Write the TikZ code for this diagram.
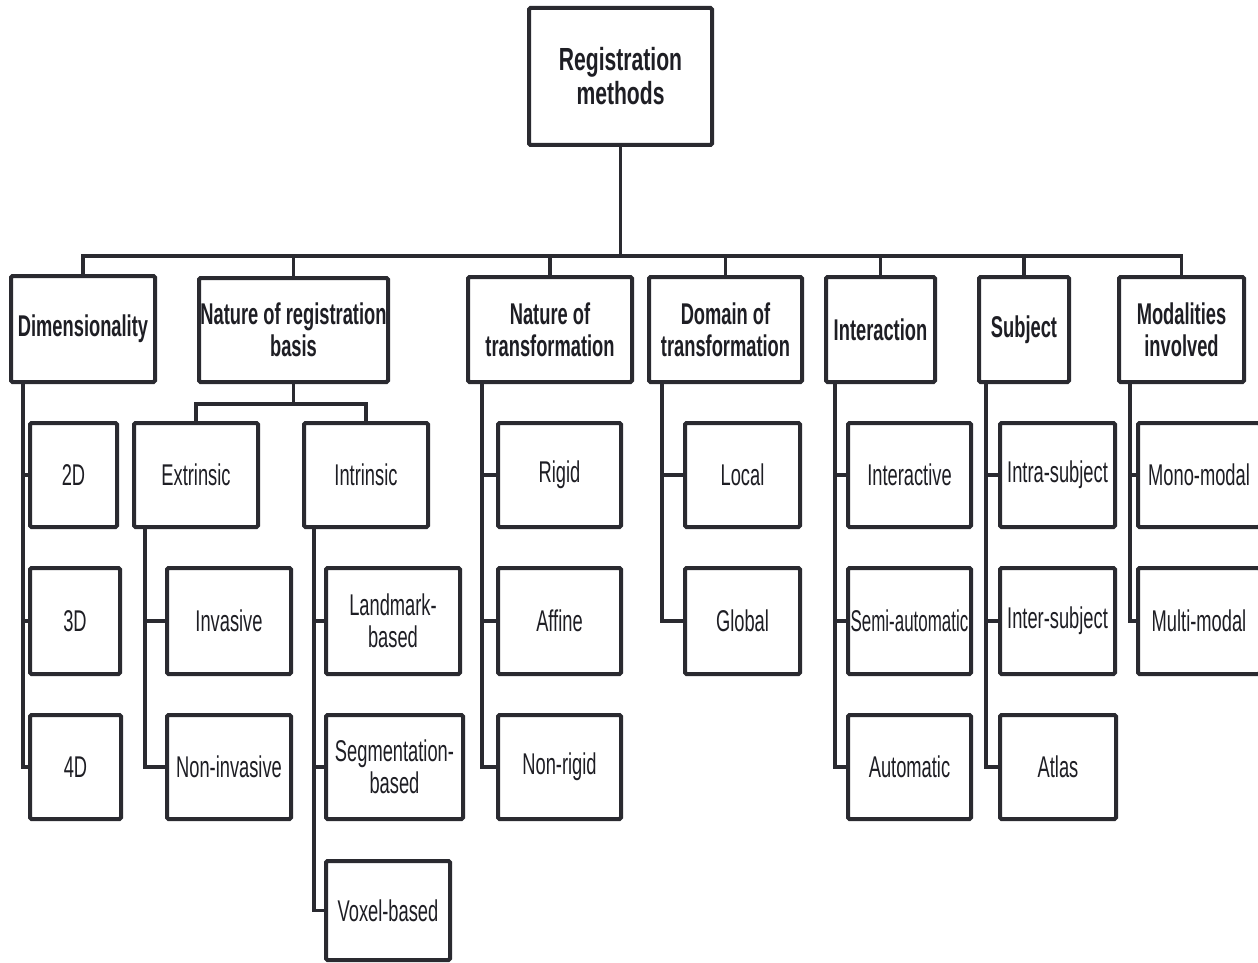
\documentclass[tikz,border=0pt]{standalone}
\usepackage{fontspec}
\setmainfont{Liberation Sans}[FakeStretch=0.61]
\newfontfamily\rootfont{Liberation Sans}[FakeStretch=0.66]
\newfontfamily\narrowfont{Liberation Sans}[FakeStretch=0.565]
\definecolor{ln}{HTML}{2A2A30}
\definecolor{tx}{HTML}{1E1E24}
\begin{document}
\begin{tikzpicture}[x=1pt,y=-1pt,
  box/.style={draw=ln, line width=4pt, rounded corners=1.5pt, fill=white, inner sep=0pt,
    align=center, text=tx, font=\fontsize{30}{32}\selectfont},
  head/.style={box, font=\fontsize{30}{32}\selectfont\bfseries},
  conn/.style={draw=ln, line width=3.5pt, line cap=rect},
  r1/.style={minimum height=104pt},
  r2/.style={minimum height=106pt},
  r3/.style={minimum height=104pt},
  r4/.style={minimum height=99pt},
]
\useasboundingbox (0,0) rectangle (1258,963);
\clip (0,0) rectangle (1258,963);
\fill[white] (0,0) rectangle (1258,963);

% root
\node[box, minimum width=183pt, minimum height=137pt,
  font=\fontsize{32}{34}\selectfont\rootfont\bfseries] (root) at (620.5,76.5) {Registration\\methods};

% level 1
\node[head, minimum width=144pt, minimum height=106pt] (dim) at (83,329) {Dimensionality};
\node[head, minimum width=189pt, minimum height=104pt] (nrb) at (293.5,330) {Nature of registration\\basis};
\node[head, minimum width=164pt, minimum height=105pt] (not) at (550,329.5) {Nature of\\transformation};
\node[head, minimum width=153pt, minimum height=105pt] (dom) at (725.5,329.5) {Domain of\\transformation};
\node[head, minimum width=109pt, minimum height=105pt] (inter) at (880.5,329.5) {Interaction};
\node[head, minimum width=90pt, minimum height=105pt] (subj) at (1024,329.5) {Subject};
\node[head, minimum width=125pt, minimum height=105pt] (moda) at (1181.5,329.5) {Modalities\\involved};

\coordinate (bus) at (0,256);
\foreach \n in {dim,nrb,not,dom,inter,subj,moda}
  \draw[conn] (root.south) -- (root.south |- bus) -| (\n.north);

% dimensionality children
\node[box, r1, minimum width=87pt] (d2) at (73.5,475) {2D};
\node[box, r2, minimum width=90pt] (d3) at (75,621) {3D};
\node[box, r3, minimum width=91pt] (d4) at (75.5,767) {4D};
\foreach \n in {d2,d3,d4}
  \draw[conn] ([xshift=14pt]dim.south west) |- (\n.west);

% nature of registration basis
\node[box, r1, minimum width=124pt] (ext) at (196,475) {Extrinsic};
\node[box, r1, minimum width=124pt] (intr) at (366,475) {Intrinsic};
\draw[conn] (nrb.south) -- ++(0,20) -| (ext.north);
\draw[conn] (nrb.south) -- ++(0,20) -| (intr.north);

\node[box, r2, minimum width=124pt] (inv) at (229,621) {Invasive};
\node[box, r3, minimum width=124pt] (ninv) at (229,767) {Non-invasive};
\foreach \n in {inv,ninv}
  \draw[conn] ([xshift=13pt]ext.south west) |- (\n.west);

\node[box, r2, minimum width=134pt] (land) at (393,621) {Landmark-\\based};
\node[box, r3, minimum width=137pt] (seg) at (394.5,767) {Segmentation-\\based};
\node[box, r4, minimum width=124pt] (vox) at (388,910.5) {Voxel-based};
\foreach \n in {land,seg,vox}
  \draw[conn] ([xshift=12pt]intr.south west) |- (\n.west);

% nature of transformation
\node[box, r1, minimum width=123pt] (rig) at (559.5,475) {Rigid};
\node[box, r2, minimum width=123pt] (aff) at (559.5,621) {Affine};
\node[box, r3, minimum width=123pt] (nrig) at (559.5,767) {Non-rigid};
\foreach \n in {rig,aff,nrig}
  \draw[conn] ([xshift=16pt]not.south west) |- (\n.west);

% domain
\node[box, r1, minimum width=115pt] (loc) at (742.5,475) {Local};
\node[box, r2, minimum width=115pt] (glob) at (742.5,621) {Global};
\foreach \n in {loc,glob}
  \draw[conn] ([xshift=15pt]dom.south west) |- (\n.west);

% interaction
\node[box, r1, minimum width=123pt] (iact) at (909.5,475) {Interactive};
\node[box, r2, minimum width=123pt, font=\fontsize{30}{32}\selectfont\narrowfont] (semi) at (909.5,621) {Semi-automatic};
\node[box, r3, minimum width=123pt] (auto) at (909.5,767) {Automatic};
\foreach \n in {iact,semi,auto}
  \draw[conn] ([xshift=11pt]inter.south west) |- (\n.west);

% subject
\node[box, r1, minimum width=115pt] (intra) at (1057.5,475) {Intra-subject};
\node[box, r2, minimum width=115pt] (inters) at (1057.5,621) {Inter-subject};
\node[box, r3, minimum width=116pt] (atlas) at (1058,767) {Atlas};
\foreach \n in {intra,inters,atlas}
  \draw[conn] ([xshift=9pt]subj.south west) |- (\n.west);

% modalities
\node[box, r1, minimum width=122pt] (mono) at (1199,475) {Mono-modal};
\node[box, r2, minimum width=122pt] (multi) at (1199,621) {Multi-modal};
\foreach \n in {mono,multi}
  \draw[conn] ([xshift=13pt]moda.south west) |- (\n.west);
\end{tikzpicture}
\end{document}
